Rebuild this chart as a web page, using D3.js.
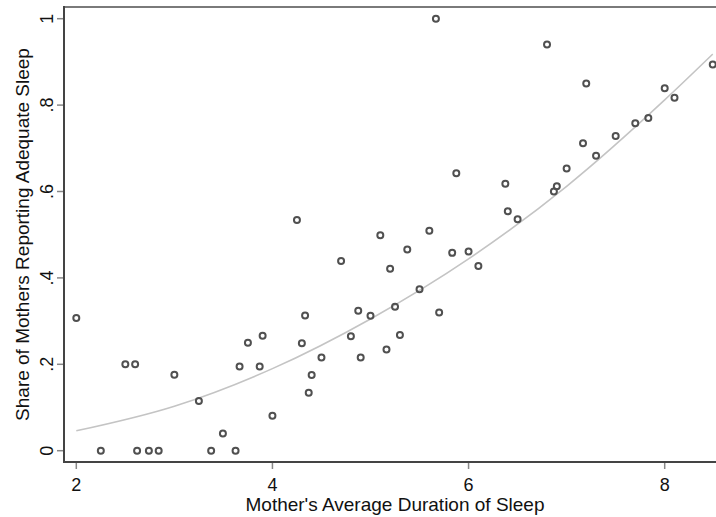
<!DOCTYPE html>
<html>
<head>
<meta charset="utf-8">
<script src="https://cdn.jsdelivr.net/npm/d3@7"></script>
<style>
  body { margin: 0; background: #fff; }
  text { font-family: "Liberation Sans", Arial, sans-serif; fill: #111; }
</style>
</head>
<body>
<div id="chart"></div>
<script>
// hours of sleep (x) and share reporting adequate sleep (y)
var sleepHours = [
  2.00, 2.25, 2.50, 2.60, 2.62, 2.74, 2.84, 3.00, 3.25, 3.375,
  3.495, 3.624, 3.665, 3.75, 3.87, 3.90, 4.00, 4.25, 4.30, 4.333,
  4.37, 4.40, 4.50, 4.70, 4.80, 4.875, 4.90, 5.00, 5.10, 5.163,
  5.20, 5.25, 5.30, 5.375, 5.50, 5.60, 5.667, 5.70, 5.833, 5.875,
  6.00, 6.10, 6.375, 6.40, 6.50, 6.80, 6.87, 6.90, 7.00, 7.167,
  7.20, 7.30, 7.50, 7.70, 7.833, 8.00, 8.10, 8.49
];
var shareAdequate = [
  0.307, 0, 0.200, 0.200, 0, 0, 0, 0.176, 0.115, 0,
  0.040, 0, 0.195, 0.250, 0.195, 0.266, 0.081, 0.534, 0.249, 0.313,
  0.134, 0.175, 0.216, 0.439, 0.265, 0.324, 0.216, 0.3125, 0.499, 0.234,
  0.421, 0.333, 0.268, 0.466, 0.374, 0.509, 1.0, 0.320, 0.458, 0.642,
  0.461, 0.4275, 0.618, 0.554, 0.536, 0.940, 0.600, 0.612, 0.653, 0.7116,
  0.850, 0.683, 0.7285, 0.758, 0.770, 0.839, 0.817, 0.894
];
// quadratic fit line
var fitHours = [2, 3, 4, 5, 6, 7, 8, 8.49];
var fitShare = [0.046, 0.103, 0.190, 0.305, 0.444, 0.612, 0.812, 0.918];

var xTicks = [2, 4, 6, 8];
var yTicks = [0, 0.2, 0.4, 0.6, 0.8, 1];
var yTickLabels = ["0", ".2", ".4", ".6", ".8", "1"];

var width = 716, height = 517;
var margin = { top: 7, right: -10, bottom: 55, left: 64 };
var fontSize = 19, tickFontSize = 18;

var points = sleepHours.map(function(h, i) { return { x: h, y: shareAdequate[i] }; });
var fitLine = fitHours.map(function(h, i) { return { x: h, y: fitShare[i] }; });

var svg = d3.select("#chart")
    .append("svg")
    .attr("width", width)
    .attr("height", height);

var x = d3.scaleLinear()
    .domain([2, 8])
    .range([76.3, 664.7]);

var y = d3.scaleLinear()
    .domain([0, 1])
    .range([450.7, 18.7]);

var plotRight = width - margin.right;
var plotBottom = height - margin.bottom;

svg.append("path")
    .datum(fitLine)
    .attr("fill", "none")
    .attr("stroke", "#c4c4c4")
    .attr("stroke-width", 1.6)
    .attr("d", d3.line()
        .curve(d3.curveMonotoneX)
        .x(function(d) { return x(d.x); })
        .y(function(d) { return y(d.y); }));

svg.selectAll(".dot")
    .data(points)
    .enter().append("circle")
    .attr("class", "dot")
    .attr("cx", function(d) { return x(d.x); })
    .attr("cy", function(d) { return y(d.y); })
    .attr("r", 3)
    .attr("fill", "none")
    .attr("stroke", "#505050")
    .attr("stroke-width", 2);

// frame
svg.append("line")
    .attr("x1", margin.left).attr("x2", plotRight)
    .attr("y1", margin.top).attr("y2", margin.top)
    .attr("stroke", "#7a7a7a").attr("stroke-width", 2);

// x axis
var xAxis = svg.append("g")
    .attr("transform", "translate(0," + plotBottom + ")");
xAxis.append("line")
    .attr("x1", margin.left - 1).attr("x2", plotRight)
    .attr("stroke", "#444").attr("stroke-width", 2);
xAxis.selectAll(".xtick")
    .data(xTicks)
    .enter().append("line")
    .attr("x1", function(d) { return x(d); }).attr("x2", function(d) { return x(d); })
    .attr("y1", 1).attr("y2", 7)
    .attr("stroke", "#888").attr("stroke-width", 1.5);
xAxis.selectAll(".xlab")
    .data(xTicks)
    .enter().append("text")
    .attr("x", function(d) { return x(d); })
    .attr("y", 29)
    .attr("text-anchor", "middle")
    .attr("font-size", tickFontSize)
    .text(function(d) { return d; });

svg.append("text")
    .attr("x", (margin.left + plotRight) / 2)
    .attr("y", 511)
    .attr("text-anchor", "middle")
    .attr("font-size", fontSize)
    .text("Mother's Average Duration of Sleep");

// y axis
var yAxis = svg.append("g")
    .attr("transform", "translate(" + margin.left + ",0)");
yAxis.append("line")
    .attr("y1", margin.top - 1).attr("y2", plotBottom + 1)
    .attr("stroke", "#444").attr("stroke-width", 2);
yAxis.selectAll(".ytick")
    .data(yTicks)
    .enter().append("line")
    .attr("y1", function(d) { return y(d); }).attr("y2", function(d) { return y(d); })
    .attr("x1", -1).attr("x2", -7)
    .attr("stroke", "#888").attr("stroke-width", 1.5);
yAxis.selectAll(".ylab")
    .data(yTicks)
    .enter().append("text")
    .attr("transform", function(d) { return "translate(-11," + y(d) + ") rotate(-90)"; })
    .attr("text-anchor", "middle")
    .attr("font-size", tickFontSize)
    .text(function(d, i) { return yTickLabels[i]; });

svg.append("text")
    .attr("transform", "translate(29," + (margin.top + plotBottom) / 2 + ") rotate(-90)")
    .attr("text-anchor", "middle")
    .attr("font-size", fontSize)
    .text("Share of Mothers Reporting Adequate Sleep");
</script>
</body>
</html>
